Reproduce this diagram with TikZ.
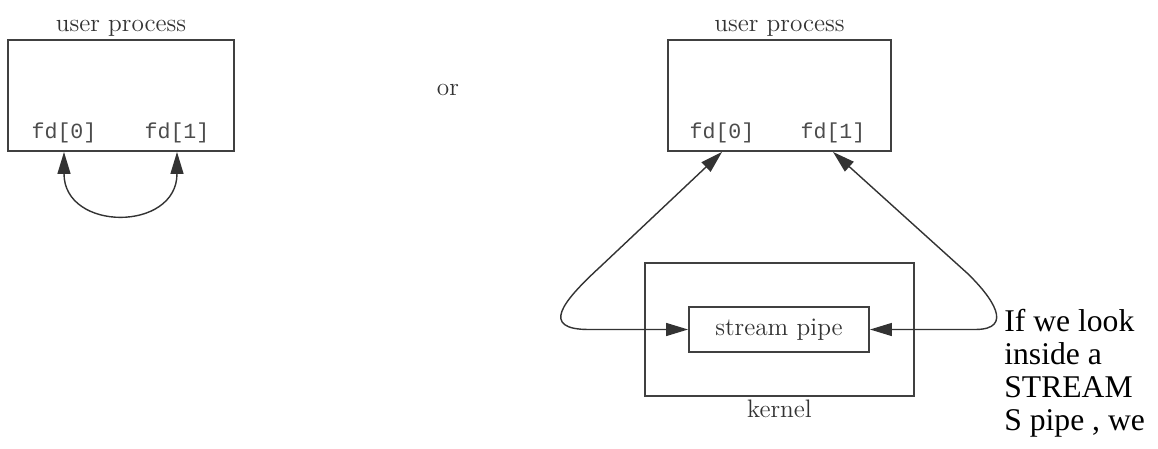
\documentclass[tikz,border=0pt]{standalone}
\usepackage{fontspec}
\newfontfamily\fdfont{Liberation Mono}
\newfontfamily\notefont{LiberationSerif-Regular.ttf}
\usetikzlibrary{arrows.meta}
\tikzstyle{every node} = [
		font = \fontsize{14.4}{17}\selectfont,
		text = black!80
	]
\tikzstyle{box} = [
		rectangle,
		draw = black!75,
		line width = 1.1pt,
		inner sep = 0pt
	]
\tikzstyle{fd} = [
		font = \fdfont\fontsize{12.3}{14}\selectfont,
		text = black!70
	]
\tikzstyle{link} = [
		draw = black!80,
		line width = .8pt,
		{Triangle[length=4.4mm,width=2.6mm]}-{Triangle[length=4.4mm,width=2.6mm]}
	]

\begin{document}
\begin{tikzpicture}[x = .02cm, y = -.02cm]
	\useasboundingbox (0,0) rectangle (1158,449);

		%------------------------------Left------------------------------
		\node [box, minimum width = 4.52cm, minimum height = 2.22cm] (lproc) at (121,95.5) {};
		\node [above, inner sep = 1.5pt] (lproctag) at (lproc.north) {user process};
		\node [fd] (lfdread) at (64,133) {fd[0]};
		\node [fd] (lfdwrite) at (177,133) {fd[1]};
		\draw [link] (lproc.south -| lfdread) .. controls +(0,80) and +(0,80) .. (lproc.south -| lfdwrite);

		\node (or) at (448,90) {or};

		%------------------------------Right------------------------------
		\node [box, minimum width = 4.46cm, minimum height = 2.22cm] (rproc) at (779.5,95.5) {};
		\node [above, inner sep = 1.5pt] (rproctag) at (rproc.north) {user process};
		\node [fd] (rfdread) at (722,133) {fd[0]};
		\node [fd] (rfdwrite) at (833,133) {fd[1]};

		\node [box, minimum width = 5.38cm, minimum height = 2.66cm] (kernel) at (779.5,329.5) {};
		\node [below, inner sep = 1.5pt] (kerneltag) at (kernel.south) {kernel};
		\node [box, minimum width = 3.6cm, minimum height = .9cm] (pipe) at (779,329.5) {stream pipe};

		\draw [link] (pipe.west) -- (589,329.5) .. controls (540,329.5) and (562,302) .. (600,267) -- (rproc.south -| rfdread);
		\draw [link] (pipe.east) -- (975,329.5) .. controls (1015,329.5) and (992,297) .. (967,273) -- (rproc.south -| rfdwrite);

		%------------------------------Text------------------------------
		\node [anchor = north west, inner sep = 0pt, align = left, text = black,
			font = \notefont\fontsize{18}{18.7}\selectfont] (note) at (1004,309)
			{If we look\\inside a\\STREAM\\S pipe , we};

\end{tikzpicture}
\end{document}
